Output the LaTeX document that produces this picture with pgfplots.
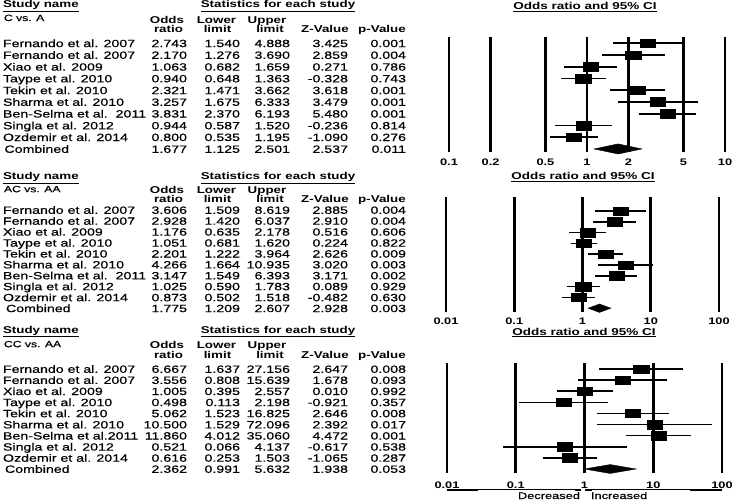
\documentclass[border=0pt]{standalone}
\usepackage{pgfplots}
\pgfplotsset{compat=1.18}
\usepackage{fontspec}
\setmainfont[FakeStretch=1.35]{Liberation Sans}
\newfontfamily\rowfam[FakeStretch=1.35, FakeBold=0.6]{Liberation Sans}
\newcommand\rowf{\rowfam\fontsize{10.5bp}{12bp}\selectfont}
\newcommand\headf{\fontsize{9.9bp}{12bp}\selectfont\bfseries}
\newcommand\subf{\rowfam\fontsize{9bp}{11bp}\selectfont}
\newcommand\tickf{\fontsize{9.5bp}{11bp}\selectfont\bfseries}
% data row: baseline y, name, OR, lower, upper, Z, p
\newcommand\datarow[7]{%
  \node[anchor=base west,font=\rowf] at (3,#1) {#2};
  \node[anchor=base east,font=\rowf] at (187,#1) {#3};
  \node[anchor=base east,font=\rowf] at (240,#1) {#4};
  \node[anchor=base east,font=\rowf] at (290,#1) {#5};
  \node[anchor=base east,font=\rowf] at (348,#1) {#6};
  \node[anchor=base east,font=\rowf] at (406,#1) {#7};}
% header block
\newcommand\headblock[5]{%
  \node[anchor=base west,font=\headf] at (3,#1) {\underline{Study name}};
  \node[anchor=base,font=\headf] at (278,#1) {\underline{Statistics for each study}};
  \node[anchor=base west,font=\subf] at (4,#3) {#2};
  \node[anchor=base,font=\headf] at (167,#4) {Odds};
  \node[anchor=base,font=\headf] at (168.5,#5) {ratio};
  \node[anchor=base,font=\headf] at (216.5,#4) {Lower};
  \node[anchor=base,font=\headf] at (217.5,#5) {limit};
  \node[anchor=base,font=\headf] at (267,#4) {Upper};
  \node[anchor=base,font=\headf] at (270,#5) {limit};
  \node[anchor=base,font=\headf] at (325,#5) {Z-Value};
  \node[anchor=base,font=\headf] at (382,#5) {p-Value};}
\begin{document}
\begin{tikzpicture}
\useasboundingbox (0,0) rectangle (734bp,-500bp);
\begin{scope}[x=1bp,y=-1bp, every node/.style={inner sep=0pt, outer sep=0pt}]
% ---- panel 1 ----
\headblock{7.9}{C vs. A}{21}{23.5}{32.5}
\node[anchor=base,font=\fontsize{10bp}{12bp}\selectfont\bfseries] at (585,9.9) {\underline{Odds ratio and 95\% CI}};
\datarow{47.1}{Fernando et al. 2007}{2.743}{1.540}{4.888}{3.425}{0.001}
\datarow{58.8}{Fernando et al. 2007}{2.170}{1.276}{3.690}{2.859}{0.004}
\datarow{70.6}{Xiao et al. 2009}{1.063}{0.682}{1.659}{0.271}{0.786}
\datarow{82.3}{Taype et al. 2010}{0.940}{0.648}{1.363}{-0.328}{0.743}
\datarow{94.1}{Tekin et al. 2010}{2.321}{1.471}{3.662}{3.618}{0.001}
\datarow{105.8}{Sharma et al. 2010}{3.257}{1.675}{6.333}{3.479}{0.001}
\datarow{117.5}{Ben-Selma et al.\ \ 2011}{3.831}{2.370}{6.193}{5.480}{0.001}
\datarow{129.3}{Singla et al. 2012}{0.944}{0.587}{1.520}{-0.236}{0.814}
\datarow{141.0}{Ozdemir et al. 2014}{0.800}{0.535}{1.195}{-1.090}{0.276}
\datarow{152.8}{\hspace{1.5bp}Combined}{1.677}{1.125}{2.501}{2.537}{0.011}
% ---- panel 2 ----
\headblock{179.8}{AC vs. AA}{192.2}{193}{202}
\node[anchor=base,font=\fontsize{10bp}{12bp}\selectfont\bfseries] at (583,179.3) {\underline{Odds ratio and 95\% CI}};
\datarow{213.8}{Fernando et al. 2007}{3.606}{1.509}{8.619}{2.885}{0.004}
\datarow{224.7}{Fernando et al. 2007}{2.928}{1.420}{6.037}{2.910}{0.004}
\datarow{235.6}{Xiao et al. 2009}{1.176}{0.635}{2.178}{0.516}{0.606}
\datarow{246.6}{Taype et al. 2010}{1.051}{0.681}{1.620}{0.224}{0.822}
\datarow{257.5}{Tekin et al. 2010}{2.201}{1.222}{3.964}{2.626}{0.009}
\datarow{268.4}{Sharma et al. 2010}{4.266}{1.664}{10.935}{3.020}{0.003}
\datarow{279.3}{Ben-Selma et al.\ \ 2011}{3.147}{1.549}{6.393}{3.171}{0.002}
\datarow{290.2}{Singla et al. 2012}{1.025}{0.590}{1.783}{0.089}{0.929}
\datarow{301.2}{Ozdemir et al. 2014}{0.873}{0.502}{1.518}{-0.482}{0.630}
\datarow{312.1}{\hspace{3bp}Combined}{1.775}{1.209}{2.607}{2.928}{0.003}
% ---- panel 3 ----
\headblock{333}{CC vs. AA}{347.2}{348.5}{358.5}
\node[anchor=base,font=\fontsize{10bp}{12bp}\selectfont\bfseries] at (584,335) {\underline{Odds ratio and 95\% CI}};
\datarow{372.8}{Fernando et al. 2007}{6.667}{1.637}{27.156}{2.647}{0.008}
\datarow{383.9}{Fernando et al. 2007}{3.556}{0.808}{15.639}{1.678}{0.093}
\datarow{395.0}{Xiao et al. 2009}{1.005}{0.395}{2.557}{0.010}{0.992}
\datarow{406.1}{Taype et al. 2010}{0.498}{0.113}{2.198}{-0.921}{0.357}
\datarow{417.2}{Tekin et al. 2010}{5.062}{1.523}{16.825}{2.646}{0.008}
\datarow{428.4}{Sharma et al. 2010}{10.500}{1.529}{72.096}{2.392}{0.017}
\datarow{439.5}{Ben-Selma et al.2011}{11.860}{4.012}{35.060}{4.472}{0.001}
\datarow{450.6}{Singla et al. 2012}{0.521}{0.066}{4.137}{-0.617}{0.538}
\datarow{461.7}{Ozdemir et al. 2014}{0.616}{0.253}{1.503}{-1.065}{0.287}
\datarow{472.8}{\hspace{2bp}Combined}{2.362}{0.991}{5.632}{1.938}{0.053}
% bottom direction arrows
\draw[black, line width=2.4bp] (447,490) -- (581,490);
\draw[black, line width=2.4bp] (585,490) -- (722,490);
\draw[white, line width=0.9bp] (478,490) -- (575,490);
\draw[white, line width=0.9bp] (592,490) -- (690,490);
\node[anchor=base east,font=\rowfam\fontsize{9.5bp}{11bp}\selectfont] at (580,499) {Decreased};
\node[anchor=base west,font=\rowfam\fontsize{9.5bp}{11bp}\selectfont] at (591,499) {Increased};
\end{scope}

% ---------- forest panel 1 ----------
\begin{axis}[scale only axis, xmode=log, clip=false,
  axis y line=none, axis x line*=bottom,
  x axis line style={draw=none}, xtick style={draw=none}, minor xtick={},
  xmajorgrids, major grid style={black, line width=2.6bp},
  ytick=\empty, enlargelimits=false,
  xticklabel style={font=\tickf, anchor=center, yshift=-10bp},
  at={(449bp,-152bp)}, anchor=south west,
  width=276bp, height=115bp, xmin=0.1, xmax=10, ymin=-10.26, ymax=-0.463,
  xtick={0.1,0.2,0.5,1,2,5,10}, xticklabels={0.1,0.2,0.5,1,2,5,10}]
\addplot[black, line width=1.6bp, unbounded coords=jump] coordinates {
(1.540,-1) (4.888,-1) (nan,nan) (1.276,-2) (3.690,-2) (nan,nan)
(0.682,-3) (1.659,-3) (nan,nan) (0.648,-4) (1.363,-4) (nan,nan)
(1.471,-5) (3.662,-5) (nan,nan) (1.675,-6) (6.333,-6) (nan,nan)
(2.370,-7) (6.193,-7) (nan,nan) (0.587,-8) (1.520,-8) (nan,nan)
(0.535,-9) (1.195,-9)};
\addplot[only marks, mark=square*, mark size=4.3bp, mark options={xscale=1.8, fill=black, draw=black}] coordinates {
(2.743,-1) (2.170,-2) (1.063,-3) (0.940,-4) (2.321,-5) (3.257,-6) (3.831,-7) (0.944,-8) (0.800,-9)};
\addplot[fill=black, draw=black, line width=0.4bp] coordinates {(1.125,-10) (1.677,-9.57) (2.501,-10) (1.677,-10.43)} -- cycle;
\end{axis}

% ---------- forest panel 2 ----------
\begin{axis}[scale only axis, xmode=log, clip=false,
  axis y line=none, axis x line*=bottom,
  x axis line style={draw=none}, xtick style={draw=none}, minor xtick={},
  xmajorgrids, major grid style={black, line width=2.6bp},
  ytick=\empty, enlargelimits=false,
  xticklabel style={font=\tickf, anchor=center, yshift=-10bp},
  at={(446bp,-311.7bp)}, anchor=south west,
  width=273bp, height=115bp, xmin=0.01, xmax=100, ymin=-10.324, ymax=0.324,
  xtick={0.01,0.1,1,10,100}, xticklabels={0.01,0.1,1,10,100}]
\addplot[black, line width=1.6bp, unbounded coords=jump] coordinates {
(1.509,-1) (8.619,-1) (nan,nan) (1.420,-2) (6.037,-2) (nan,nan)
(0.635,-3) (2.178,-3) (nan,nan) (0.681,-4) (1.620,-4) (nan,nan)
(1.222,-5) (3.964,-5) (nan,nan) (1.664,-6) (10.935,-6) (nan,nan)
(1.549,-7) (6.393,-7) (nan,nan) (0.590,-8) (1.783,-8) (nan,nan)
(0.502,-9) (1.518,-9)};
\addplot[only marks, mark=square*, mark size=4.2bp, mark options={xscale=1.8, fill=black, draw=black}] coordinates {
(3.606,-1) (2.928,-2) (1.176,-3) (1.051,-4) (2.201,-5) (4.266,-6) (3.147,-7) (1.025,-8) (0.873,-9)};
\addplot[fill=black, draw=black, line width=0.4bp] coordinates {(1.209,-10) (1.775,-9.61) (2.607,-10) (1.775,-10.39)} -- cycle;
\end{axis}

% ---------- forest panel 3 ----------
\begin{axis}[scale only axis, xmode=log, clip=false,
  axis y line=none, axis x line*=bottom,
  x axis line style={draw=none}, xtick style={draw=none}, minor xtick={},
  xmajorgrids, major grid style={black, line width=2.6bp},
  ytick=\empty, enlargelimits=false,
  xticklabel style={font=\tickf, anchor=center, yshift=-11.7bp},
  at={(447bp,-473.3bp)}, anchor=south west,
  width=275bp, height=110bp, xmin=0.01, xmax=100, ymin=-10.387, ymax=-0.487,
  xtick={0.01,0.1,1,10,100}, xticklabels={0.01,0.1,1,10,100}]
\addplot[black, line width=1.6bp, unbounded coords=jump] coordinates {
(1.637,-1) (27.156,-1) (nan,nan) (0.808,-2) (15.639,-2) (nan,nan)
(0.395,-3) (2.557,-3) (nan,nan) (0.113,-4) (2.198,-4) (nan,nan)
(1.523,-5) (16.825,-5) (nan,nan) (1.529,-6) (72.096,-6) (nan,nan)
(4.012,-7) (35.060,-7) (nan,nan) (0.066,-8) (4.137,-8) (nan,nan)
(0.253,-9) (1.503,-9)};
\addplot[only marks, mark=square*, mark size=4.2bp, mark options={xscale=1.8, fill=black, draw=black}] coordinates {
(6.667,-1) (3.556,-2) (1.005,-3) (0.498,-4) (5.062,-5) (10.500,-6) (11.860,-7) (0.521,-8) (0.616,-9)};
\addplot[fill=black, draw=black, line width=0.4bp] coordinates {(0.991,-10) (2.362,-9.6) (5.632,-10) (2.362,-10.4)} -- cycle;
\end{axis}
\end{tikzpicture}
\end{document}
